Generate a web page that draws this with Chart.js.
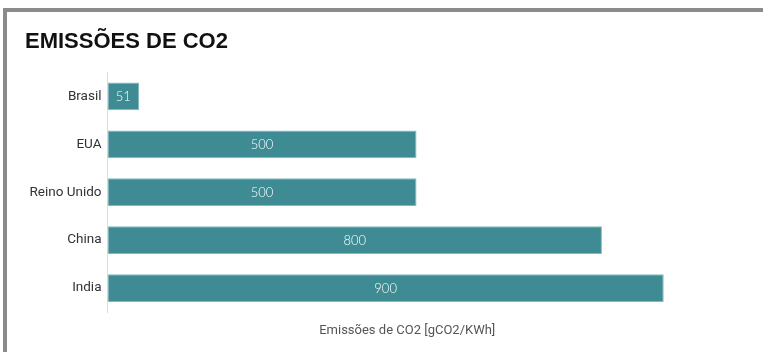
<!DOCTYPE html>
<html>
<head>
<meta charset="utf-8">
<script src="https://cdn.jsdelivr.net/npm/chart.js@4/dist/chart.umd.min.js"></script>
<style>
  html, body { margin: 0; padding: 0; background: #fff; }
  #frame { position: absolute; left: 3px; top: 8px; right: 0; bottom: 0;
           border-top: 4px solid #8b8b8b; border-left: 4px solid #8b8b8b; }
  canvas { position: absolute; left: 0; top: 0; }
</style>
</head>
<body>
<div id="frame"></div>
<canvas id="c" width="763" height="352"></canvas>
<script>
const countries = ['Brasil', 'EUA', 'Reino Unido', 'China', 'India'];
const emissions = [51, 500, 500, 800, 900];
const chartTitle = 'EMISSÕES DE CO2';
const axisTitle = 'Emissões de CO2 [gCO2/KWh]';

const labelFont = 'Roboto, "DejaVu Sans Condensed", sans-serif';

// Writes each bar's value in the middle of the bar
const barValueLabels = {
  id: 'barValueLabels',
  afterDatasetsDraw(chart) {
    const ctx = chart.ctx;
    const meta = chart.getDatasetMeta(0);
    const values = chart.data.datasets[0].data;
    ctx.save();
    ctx.font = '300 13px Lato';
    ctx.fillStyle = '#ffffff';
    ctx.textAlign = 'center';
    ctx.textBaseline = 'middle';
    meta.data.forEach((bar, i) => {
      ctx.fillText(String(values[i]), (bar.x + bar.base) / 2, bar.y + 0.5);
    });
    ctx.restore();
  }
};

new Chart(document.getElementById('c'), {
  type: 'bar',
  data: {
    labels: countries,
    datasets: [{
      data: emissions,
      backgroundColor: '#3e8b94',
      borderColor: '#86b8be',
      borderWidth: 1,
      borderSkipped: false,
      categoryPercentage: 1,
      barPercentage: 0.58
    }]
  },
  options: {
    indexAxis: 'y',
    responsive: false,
    animation: false,
    layout: { padding: { left: 25, right: 56, top: 0, bottom: 0 } },
    plugins: {
      legend: { display: false },
      tooltip: { enabled: false },
      title: {
        display: true,
        text: chartTitle,
        align: 'start',
        color: '#111111',
        font: { family: '"Liberation Sans", Arial, sans-serif', size: 22, weight: 'bold', lineHeight: 1.2 },
        padding: { top: 29, bottom: 17 }
      }
    },
    scales: {
      x: {
        min: 0,
        max: 970,
        grid: { display: false, drawTicks: false },
        border: { display: false },
        ticks: { display: false },
        title: {
          display: true,
          text: axisTitle,
          color: '#555555',
          font: { family: labelFont, size: 13 },
          padding: { top: 0, bottom: 13 }
        },
        afterFit(scale) { scale.height = 40; }
      },
      y: {
        grid: { display: false, drawTicks: false },
        border: { display: true, color: '#dcdcdc', width: 1 },
        ticks: { color: '#333333', padding: 6, font: { family: labelFont, size: 13.5 } },
        afterFit(scale) { scale.width = 82.5; }
      }
    }
  },
  plugins: [barValueLabels]
});
</script>
</body>
</html>
